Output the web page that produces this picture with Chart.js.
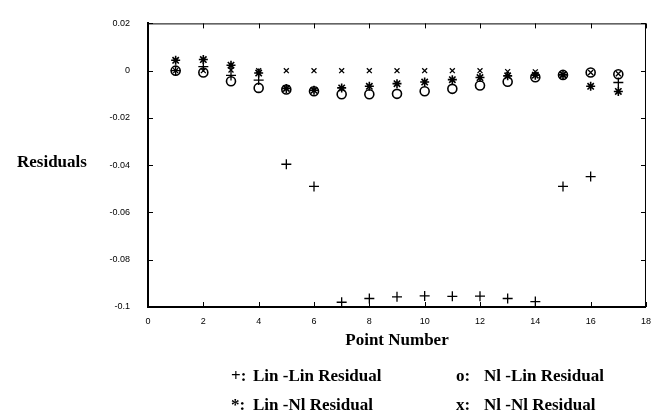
<!DOCTYPE html>
<html>
<head>
<meta charset="utf-8">
<script src="https://cdn.jsdelivr.net/npm/chart.js@4.4.0/dist/chart.umd.min.js"></script>
<style>
  body { margin: 0; background: #fff; }
</style>
</head>
<body>
<canvas id="resid-chart" width="660" height="417"></canvas>
<script>
const pointNumbers = [1, 2, 3, 4, 5, 6, 7, 8, 9, 10, 11, 12, 13, 14, 15, 16, 17];
const linLin = [0.0, 0.0017, -0.002, -0.004, -0.0396, -0.049, -0.098, -0.0964, -0.0957, -0.0953, -0.0955, -0.0954, -0.0964, -0.0977, -0.049, -0.0448, -0.005];
const linNl = [0.0044, 0.0047, 0.0023, -0.001, -0.0075, -0.0083, -0.0073, -0.0066, -0.0055, -0.0048, -0.0038, -0.0029, -0.0022, -0.0019, -0.0018, -0.0066, -0.0088];
const nlLin = [0.0, -0.0008, -0.0045, -0.0073, -0.008, -0.0087, -0.010, -0.010, -0.0098, -0.0087, -0.0077, -0.0063, -0.0047, -0.0028, -0.0018, -0.0008, -0.0015];
const nlNl = [0.0, 0.0, 0.0003, 0.0, 0.0, 0.0, 0.0, 0.0, 0.0, 0.0, 0.0, 0.0, -0.0004, -0.0005, -0.0016, -0.0008, -0.0013];

const xTickValues = [0, 2, 4, 6, 8, 10, 12, 14, 16, 18];
const xTickLabels = ['0', '2', '4', '6', '8', '10', '12', '14', '16', '18'];
const yTickValues = [-0.1, -0.08, -0.06, -0.04, -0.02, 0, 0.02];
const yTickLabels = ['-0.1', '-0.08', '-0.06', '-0.04', '-0.02', '0', '0.02'];

const legendMarks = ['+:', 'o:', '*:', 'x:'];
const legendNames = ['Lin -Lin Residual', 'Nl -Lin Residual', 'Lin -Nl Residual', 'Nl -Nl Residual'];

const toPoints = (ys) => ys.map((y, i) => ({x: pointNumbers[i], y: y}));

const serifFamily = '"Liberation Serif", "DejaVu Serif", serif';
const serifBold = 'bold 17px ' + serifFamily;

// box, inward ticks on all four sides, side label and the text legend
const framePlugin = {
  id: 'frame',
  afterDraw(chart) {
    const {ctx, chartArea: a, scales} = chart;
    ctx.save();
    ctx.strokeStyle = '#000';
    ctx.lineWidth = 1;
    ctx.beginPath();
    ctx.moveTo(a.left, a.top + 0.5);
    ctx.lineTo(a.right - 0.5, a.top + 0.5);
    ctx.lineTo(a.right - 0.5, a.bottom);
    ctx.stroke();

    ctx.beginPath();
    scales.x.ticks.forEach(t => {
      const px = Math.round(scales.x.getPixelForValue(t.value)) + 0.5;
      ctx.moveTo(px, a.bottom); ctx.lineTo(px, a.bottom - 5);
      ctx.moveTo(px, a.top); ctx.lineTo(px, a.top + 5);
    });
    scales.y.ticks.forEach(t => {
      const py = Math.round(scales.y.getPixelForValue(t.value)) + 0.5;
      ctx.moveTo(a.left, py); ctx.lineTo(a.left + 5, py);
      ctx.moveTo(a.right, py); ctx.lineTo(a.right - 5, py);
    });
    ctx.stroke();

    ctx.fillStyle = '#000';
    ctx.font = serifBold;
    ctx.textBaseline = 'middle';
    ctx.textAlign = 'left';
    ctx.fillText('Residuals', 17, 163);

    const colX = [[231, 253], [456, 484]];
    const rowY = [377, 406];
    legendMarks.forEach((m, i) => {
      const c = colX[i % 2];
      const y = rowY[Math.floor(i / 2)];
      ctx.fillText(m, c[0], y);
      ctx.fillText(legendNames[i], c[1], y);
    });
    ctx.restore();
  }
};

const tickFont = {family: '"Liberation Sans", Arial, sans-serif', size: 9};

new Chart(document.getElementById('resid-chart').getContext('2d'), {
  type: 'scatter',
  plugins: [framePlugin],
  data: {
    datasets: [
      {
        label: 'Lin -Lin Residual',
        data: toPoints(linLin),
        pointStyle: 'cross',
        pointRadius: 5,
        borderWidth: 1.3,
        borderColor: '#000'
      },
      {
        label: 'Lin -Nl Residual',
        data: toPoints(linNl),
        pointStyle: 'star',
        pointRadius: 4.5,
        borderWidth: 1.6,
        borderColor: '#000'
      },
      {
        label: 'Nl -Lin Residual',
        data: toPoints(nlLin),
        pointStyle: 'circle',
        pointRadius: 4.5,
        borderWidth: 1.6,
        borderColor: '#000',
        backgroundColor: 'rgba(0,0,0,0)'
      },
      {
        label: 'Nl -Nl Residual',
        data: toPoints(nlNl),
        pointStyle: 'crossRot',
        pointRadius: 3.5,
        borderWidth: 1.3,
        borderColor: '#000'
      }
    ]
  },
  options: {
    responsive: false,
    animation: false,
    events: [],
    layout: {
      padding: {top: 16, right: 2, left: 0, bottom: 0}
    },
    scales: {
      x: {
        type: 'linear',
        min: 0,
        max: 18,
        afterBuildTicks: s => { s.ticks = xTickValues.map(v => ({value: v})); },
        afterFit: s => { s.height = 110; },
        grid: {drawOnChartArea: false, drawTicks: false},
        border: {color: '#000', width: 2},
        ticks: {
          color: '#000',
          font: tickFont,
          padding: 9,
          maxRotation: 0,
          callback: (v, i) => xTickLabels[i]
        },
        title: {
          display: true,
          text: 'Point Number',
          color: '#000',
          font: {family: serifFamily, size: 17, weight: 'bold'},
          padding: {top: 0, bottom: 66}
        }
      },
      y: {
        type: 'linear',
        min: -0.1,
        max: 0.02,
        afterBuildTicks: s => { s.ticks = yTickValues.map(v => ({value: v})); },
        afterFit: s => { s.width = 148; },
        grid: {drawOnChartArea: false, drawTicks: false},
        border: {color: '#000', width: 2},
        ticks: {
          color: '#000',
          font: tickFont,
          padding: 18,
          callback: (v, i) => yTickLabels[i]
        }
      }
    },
    plugins: {
      legend: {display: false},
      tooltip: {enabled: false}
    }
  }
});
</script>
</body>
</html>
